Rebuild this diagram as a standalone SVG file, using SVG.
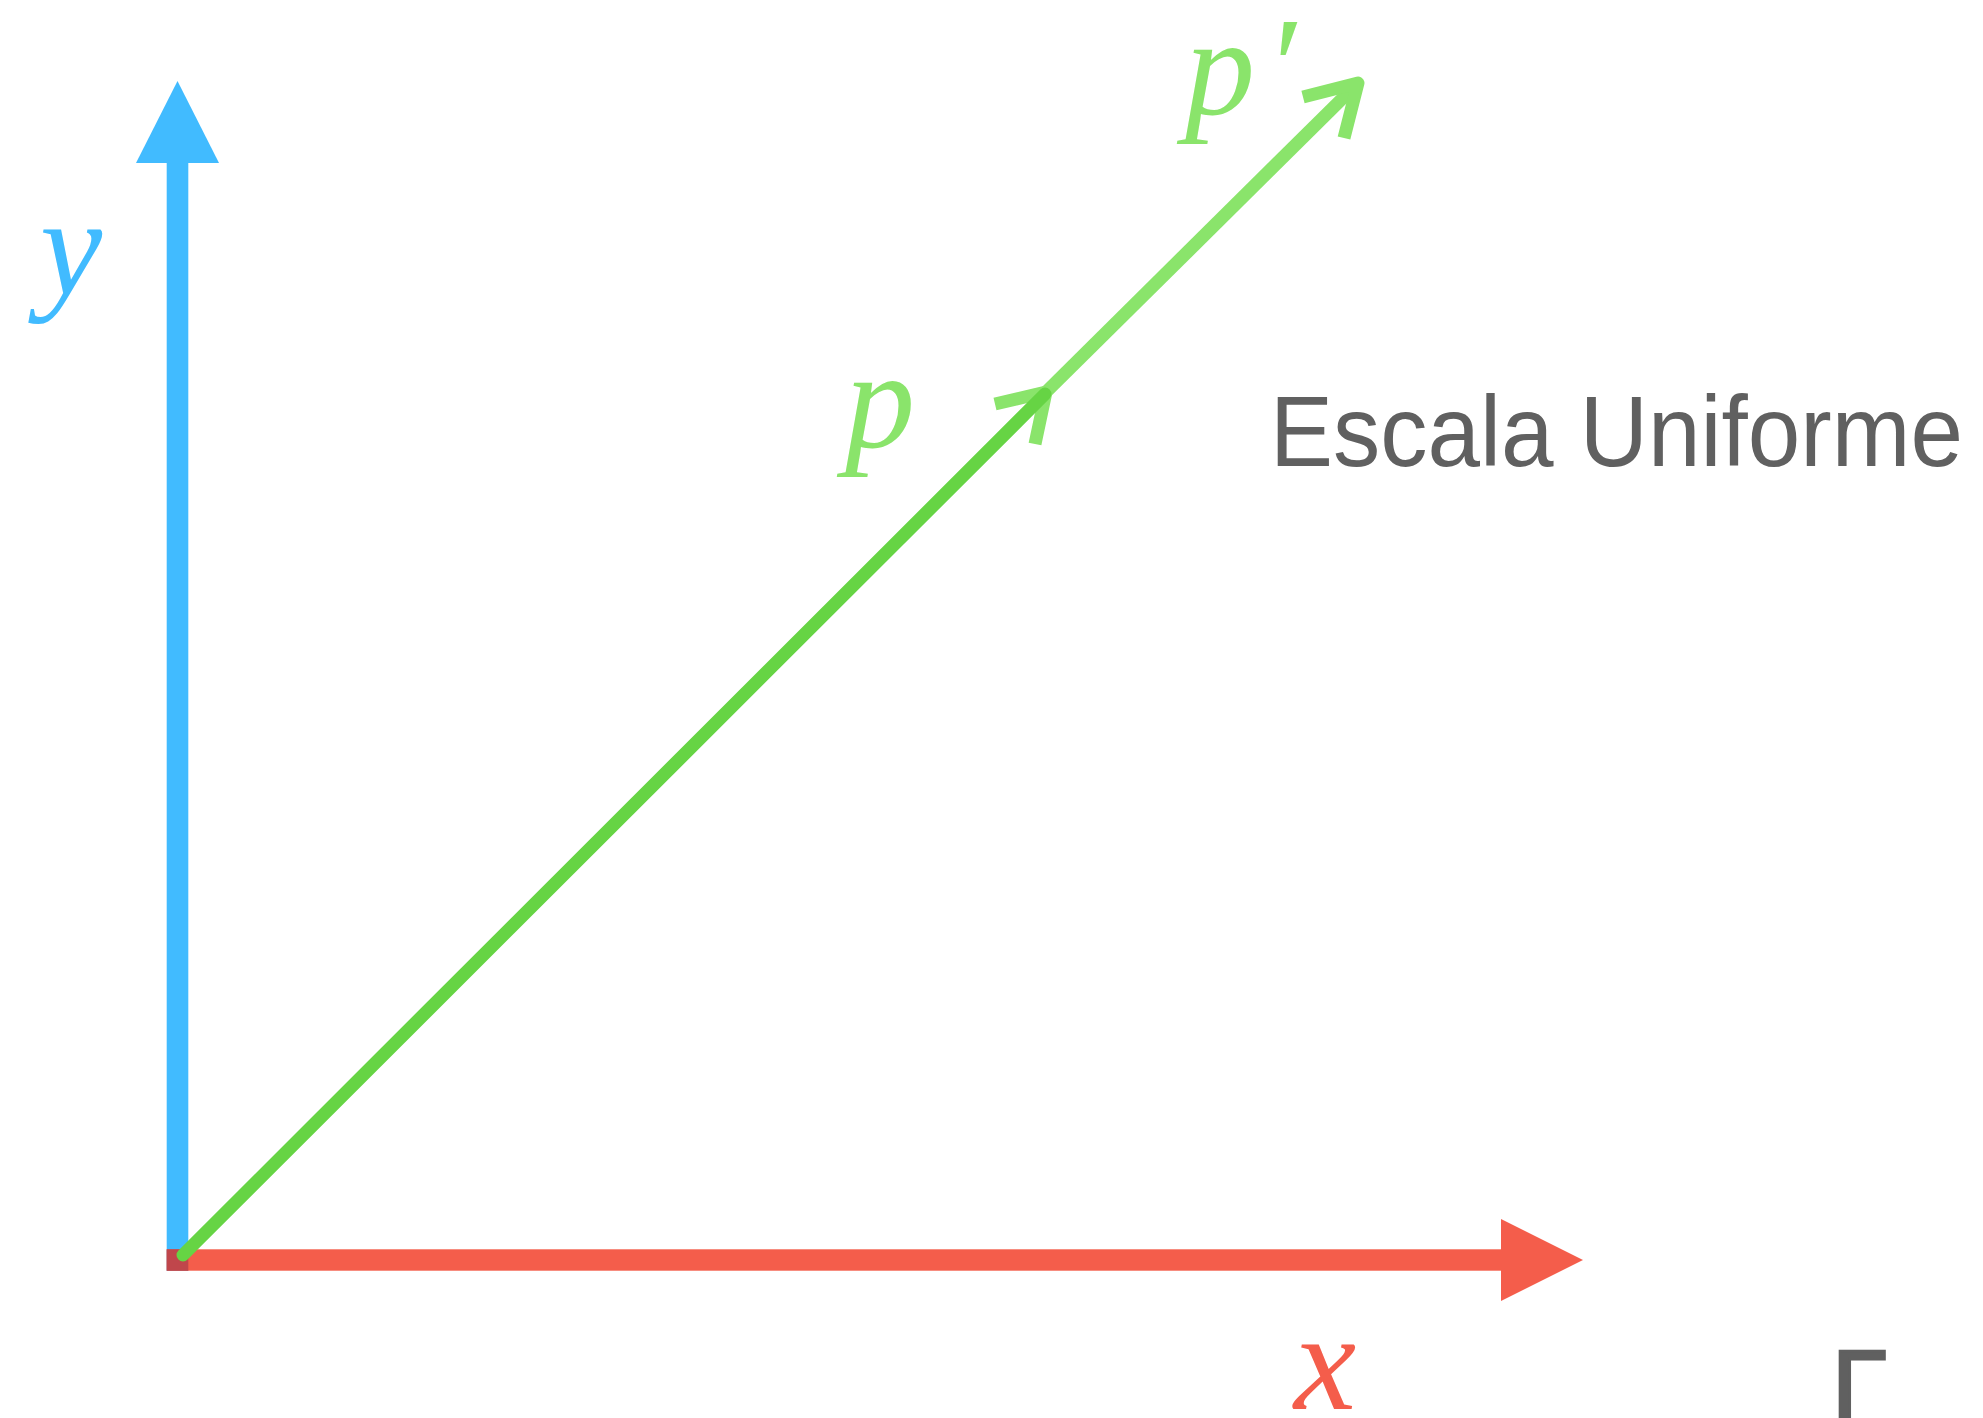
<svg xmlns="http://www.w3.org/2000/svg" width="1983" height="1418" viewBox="0 0 1983 1418">
<style>
.lbl{font-family:"Liberation Serif","Times New Roman",serif;font-style:italic;font-size:140px}
.title{font-family:"Liberation Sans",Arial,sans-serif;font-size:100px;fill:#606060}
.light{fill:none;stroke:#8AE46B;stroke-width:13;stroke-linejoin:round}
</style>
<rect width="1983" height="1418" fill="#ffffff"/>
<g id="axis-y">
<rect x="166.7" y="160" width="21.6" height="1111" fill="#41BBFF"/>
<polygon points="136,163 177.5,81 219,163" fill="#41BBFF"/>
</g>
<g id="axis-x">
<rect x="166.7" y="1249.3" width="1336" height="21.4" fill="#F45D4B"/>
<polygon points="1501,1219 1583,1260 1501,1301" fill="#F45D4B"/>
<rect x="166.7" y="1249.3" width="21.6" height="21.4" fill="#C0464B"/>
</g>
<g id="connectors">
<line x1="1040" y1="398" x2="1353" y2="88" class="light"/>
<polyline points="1303,97 1358,83 1344,138" class="light"/>
<polyline points="995,404 1046,392 1035,444" class="light" stroke-width="12"/>
<line x1="183" y1="1255" x2="1045" y2="394" stroke="#66D444" stroke-width="13" stroke-linecap="round"/>
</g>
<g id="labels">
<text class="lbl" x="40" y="294" fill="#41BBFF">y</text>
<text class="lbl" x="845" y="447" fill="#8AE46B">p</text>
<text class="lbl" x="1185" y="114" fill="#8AE46B">p<tspan dx="10">′</tspan></text>
<text class="lbl" x="1294" y="1409" fill="#F45D4B">x</text>
<text class="title" x="1270" y="466" textLength="693" lengthAdjust="spacingAndGlyphs">Escala Uniforme</text>
<text class="title" x="1832" y="1420" font-size="130" stroke="#606060" stroke-width="3">Γ</text>
</g>
</svg>
